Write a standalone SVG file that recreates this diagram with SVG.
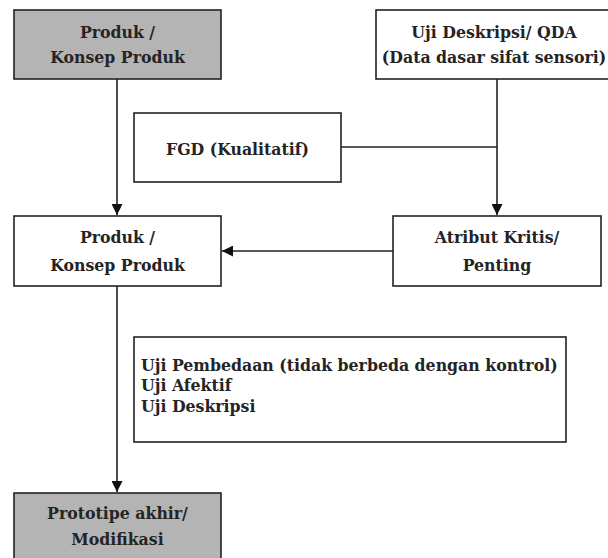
<svg xmlns="http://www.w3.org/2000/svg" width="608" height="558" viewBox="0 0 608 558">
  <style>
    .box { fill: #ffffff; stroke: #222222; stroke-width: 1.6; }
    .shade { fill: #b4b4b4; }
    .lbl { font-family: 'DejaVu Serif Condensed', 'DejaVu Serif', serif; font-stretch: condensed; font-size: 17.5px; font-weight: 700; fill: #242424; }
    .c { text-anchor: middle; }
    .wire { fill: none; stroke: #222222; stroke-width: 1.6; }
  </style>
  <defs>
    <marker id="arrow" viewBox="0 0 10 10" refX="10" refY="5" markerWidth="11" markerHeight="11" markerUnits="userSpaceOnUse" orient="auto">
      <path d="M0,0 L10,5 L0,10 Z" fill="#111111"/>
    </marker>
  </defs>

  <rect width="608" height="558" fill="#ffffff"/>

  <!-- connectors -->
  <g id="connectors">
    <line class="wire" x1="117" y1="79" x2="117" y2="215" marker-end="url(#arrow)"/>
    <line class="wire" x1="497" y1="79" x2="497" y2="215" marker-end="url(#arrow)"/>
    <line class="wire" x1="341" y1="147" x2="497" y2="147"/>
    <line class="wire" x1="393" y1="251" x2="222" y2="251" marker-end="url(#arrow)"/>
    <line class="wire" x1="117" y1="286" x2="117" y2="492" marker-end="url(#arrow)"/>
  </g>

  <!-- product concept (start) -->
  <g id="produk-awal">
    <rect class="box shade" x="14" y="10" width="207" height="69"/>
    <text class="lbl c" x="117.5" y="38">Produk /</text>
    <text class="lbl c" x="117.5" y="63">Konsep Produk</text>
  </g>

  <!-- descriptive test / QDA -->
  <g id="uji-deskripsi">
    <rect class="box" x="376" y="10" width="250" height="69"/>
    <text class="lbl c" x="494" y="38">Uji Deskripsi/ QDA</text>
    <text class="lbl c" x="494" y="63">(Data dasar sifat sensori)</text>
  </g>

  <!-- focus group discussion -->
  <g id="fgd">
    <rect class="box" x="134" y="113" width="207" height="69"/>
    <text class="lbl c" x="237.5" y="155">FGD (Kualitatif)</text>
  </g>

  <!-- product concept (refined) -->
  <g id="produk-konsep">
    <rect class="box" x="14" y="216" width="207" height="70"/>
    <text class="lbl c" x="117.5" y="243">Produk /</text>
    <text class="lbl c" x="117.5" y="271">Konsep Produk</text>
  </g>

  <!-- critical attributes -->
  <g id="atribut-kritis">
    <rect class="box" x="393" y="216" width="208" height="70"/>
    <text class="lbl c" x="497" y="243">Atribut Kritis/</text>
    <text class="lbl c" x="497" y="271">Penting</text>
  </g>

  <!-- test list -->
  <g id="uji-lanjut">
    <rect class="box" x="134" y="337" width="432" height="105"/>
    <text class="lbl" x="141" y="371">Uji Pembedaan (tidak berbeda dengan kontrol)</text>
    <text class="lbl" x="141" y="391">Uji Afektif</text>
    <text class="lbl" x="141" y="412">Uji Deskripsi</text>
  </g>

  <!-- final prototype -->
  <g id="prototipe-akhir">
    <rect class="box shade" x="14" y="493" width="207" height="75"/>
    <text class="lbl c" x="117.5" y="519">Prototipe akhir/</text>
    <text class="lbl c" x="117.5" y="545">Modifikasi</text>
  </g>
</svg>
